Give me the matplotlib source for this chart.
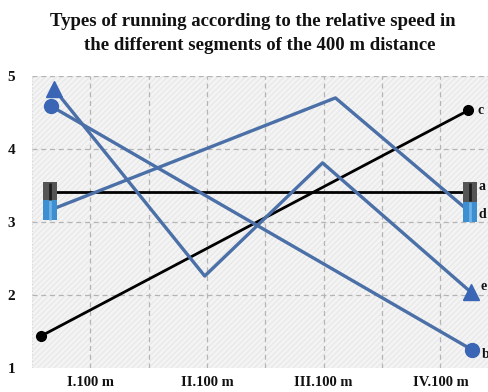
import matplotlib
matplotlib.use("Agg")
import matplotlib.pyplot as plt
from matplotlib.patches import Rectangle

# Segment labels and tick values
segments = ["I.100 m", "II.100 m", "III.100 m", "IV.100 m"]
segment_pos = [0.5, 1.5, 2.5, 3.5]
y_ticks = [1, 2, 3, 4, 5]

# Relative speed profiles (x in segment units, y = relative speed)
a_x = [0.15, 3.75]
a_y = [3.41, 3.41]
b_x = [0.16, 3.77]
b_y = [4.59, 1.25]
c_x = [0.08, 3.74]
c_y = [1.44, 4.53]
d_x = [0.15, 2.60, 3.75]
d_y = [3.16, 4.70, 3.14]
e_x = [0.19, 1.48, 2.49, 3.76]
e_y = [4.82, 2.26, 3.81, 2.04]

title_lines = ["Types of running according to the relative speed in",
               "the different segments of the 400 m distance"]

serif = "Liberation Serif"
blue_line = "#4b70a8"
blue_mark = "#3a66b5"

fig = plt.figure(figsize=(4.88, 3.92), dpi=100)
ax = fig.add_axes([32 / 488, 24 / 392, 456 / 488, 292 / 392])
ax.set_xlim(0, 456 / 116.7)
ax.set_ylim(1, 5)

# Light textured plotting background
ax.set_facecolor("#f4f4f4")
ax.add_patch(Rectangle((0, 1), 456 / 116.7, 4, facecolor="none",
                       edgecolor="#e9e9e9", hatch="//////", linewidth=0,
                       zorder=0))
for s in ax.spines.values():
    s.set_visible(False)

# Dashed grid
for gx in [0.5 * k for k in range(1, 8)]:
    ax.axvline(gx, color="#b4b4b4", linestyle=(0, (4, 3)), linewidth=0.9,
               zorder=1)
for gy in [2, 3, 4, 5]:
    ax.axhline(gy, color="#b4b4b4", linestyle=(0, (4, 3)), linewidth=0.9,
               zorder=1)
ax.axvline(0, color="#d6d6d6", linestyle=(0, (1, 2)), linewidth=0.8, zorder=1)

# Lines
ax.plot(a_x, a_y, color="black", linewidth=2.0, zorder=3)
ax.plot(c_x, c_y, color="black", linewidth=2.0, zorder=3)
ax.plot(b_x, b_y, color=blue_line, linewidth=2.4, zorder=3)
ax.plot(d_x, d_y, color=blue_line, linewidth=2.4, zorder=3)
ax.plot(e_x, e_y, color=blue_line, linewidth=2.4, zorder=3)

# End markers
rect = [(-0.35, -0.5), (0.35, -0.5), (0.35, 0.5), (-0.35, 0.5), (-0.35, -0.5)]
ax.plot([a_x[0], a_x[-1]], [a_y[0], a_y[-1]], linestyle="none", marker=rect,
        markersize=14, color="#555555", markeredgewidth=0, zorder=4,
        clip_on=False)
ax.plot([a_x[0], a_x[-1]], [a_y[0], a_y[-1]], linestyle="none", marker="|",
        markersize=13, color="#1e1e1e", markeredgewidth=2, zorder=5,
        clip_on=False)
ax.plot([d_x[0], d_x[-1]], [d_y[0], d_y[-1]], linestyle="none", marker=rect,
        markersize=15, color="#3d8fd2", markeredgewidth=0, zorder=4,
        clip_on=False)
ax.plot([d_x[0], d_x[-1]], [d_y[0], d_y[-1]], linestyle="none", marker="|",
        markersize=14, color="#6fb2e6", markeredgewidth=2, zorder=5,
        clip_on=False)
ax.plot([b_x[0], b_x[-1]], [b_y[0], b_y[-1]], linestyle="none", marker="o",
        markersize=10, color=blue_mark, zorder=4, clip_on=False)
ax.plot([c_x[0], c_x[-1]], [c_y[0], c_y[-1]], linestyle="none", marker="o",
        markersize=7, color="black", zorder=4, clip_on=False)
ax.plot([e_x[0], e_x[-1]], [e_y[0], e_y[-1]], linestyle="none", marker="^",
        markersize=12, color=blue_mark, zorder=4, clip_on=False)

# Series labels at the right end
label_font = dict(family=serif, fontweight="bold", fontsize=10,
                  color="#111111", va="center", ha="left")
for name, xs, ys, dy in [("c", c_x, c_y, 0.0), ("a", a_x, a_y, 0.07),
                         ("d", d_x, d_y, -0.04), ("e", e_x, e_y, 0.08),
                         ("b", b_x, b_y, -0.06)]:
    ax.text(xs[-1] + 0.08, ys[-1] + dy, name, clip_on=False, **label_font)

# Ticks
ax.set_xticks(segment_pos)
ax.set_xticklabels(segments, fontfamily=serif, fontweight="bold",
                   fontsize=10.5, color="#111111")
ax.set_yticks(y_ticks)
ax.set_yticklabels([str(v) for v in y_ticks], fontfamily=serif,
                   fontweight="bold", fontsize=11, color="#111111")
ax.tick_params(axis="both", length=0)
ax.tick_params(axis="x", pad=6)
ax.tick_params(axis="y", pad=12)

# Two-line title
for (line, cx, cy) in zip(title_lines, [253, 260], [22, 45]):
    fig.text(cx / 488, 1 - cy / 392, line, ha="center", va="center",
             family=serif, fontweight="bold", fontsize=13.5,
             color="#111111")

fig.savefig("out.png", dpi=100, facecolor="white")
